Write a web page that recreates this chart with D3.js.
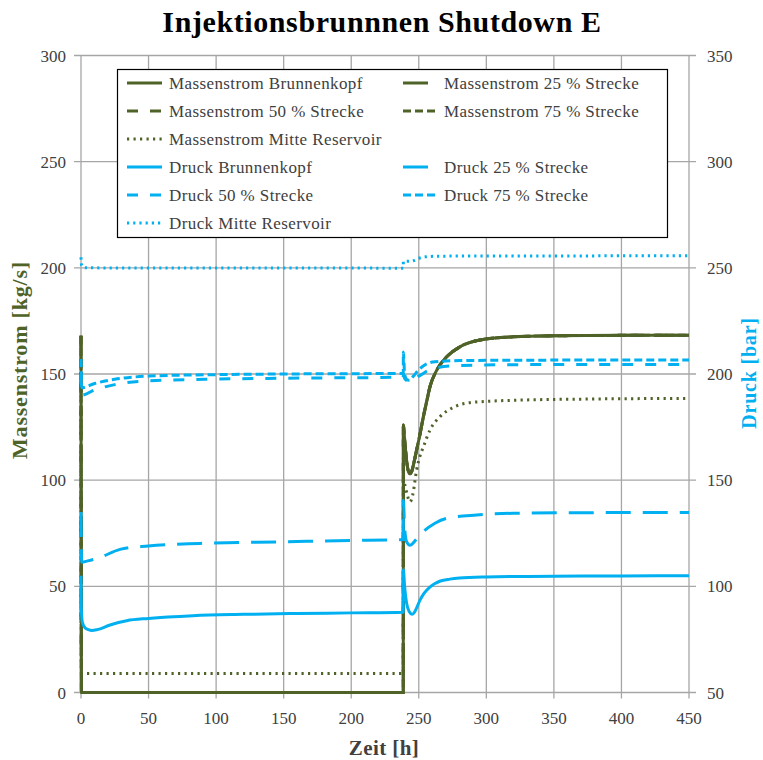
<!DOCTYPE html>
<html><head><meta charset="utf-8">
<script src="https://cdn.jsdelivr.net/npm/d3@7"></script>
<style>body{margin:0;background:#fff}svg{display:block}</style>
</head><body>
<svg id="c" width="763" height="760"></svg>
<script>
// ---- data ----
const title = "Injektionsbrunnnen Shutdown E";
const xTicks = [0,50,100,150,200,250,300,350,400,450];
const yLeftTicks = [0,50,100,150,200,250,300];
const yRightTicks = [50,100,150,200,250,300,350];

// Massenstrom [kg/s]
const tMBK = [0,0.3,238.5,238.6,239.3,240.5,242,243.5,245,246.5,248.4,251,253.4,256,258.3,263.3,270.7,280.5,295.3,319.8,350,400,450];
const vMBK = [168,0,0,126,121,112,105,103,104.5,108.5,114.2,122,129.9,137.5,144,151.8,158.1,162.8,166,167.5,168,168.2,168.3];
const tM25 = tMBK, vM25 = vMBK;
const tM50 = tMBK, vM50 = vMBK;
const tM75 = tMBK, vM75 = vMBK;
const tMMR = [0,0.3,10,100,200,238.5,238.6,240,241.5,243.5,245.5,248.4,250.5,253.4,258.3,265.7,274.4,285.5,302.7,324.9,375,450];
const vMMR = [138,9,9,9,9,9,100,97,93,89.8,93,104.8,110.5,115.7,123.6,129.9,133.9,136.3,137.2,137.7,138.2,138.5];

// Druck [bar]
const tPBK = [0,0.2,1,3,5.5,8,12,21.5,33.8,50,83,120,160,200,238.5,238.6,239.5,241,243,245,246.5,248.5,251,254,258,262,266,273,280,300,350,400,450];
const vPBK = [105,90,83,80.5,79.6,79.2,79.6,81.8,83.8,84.9,86.2,86.8,87.2,87.5,87.8,107.8,100,92,88,86.8,87.5,90,93.6,96.8,99.5,101.3,102.5,103.4,103.9,104.4,104.8,104.9,105];
const tP25 = [0,0.5,5,12.8,28.9,49.8,88,150,200,238.5,238.6,239.5,241,243.5,248,253.3,262,270.7,292.9,319.8,380,450];
const vP25 = [135,111.4,112,113.3,117.4,119,120.2,121,121.6,122,140.6,128,121,119.4,122,125.7,129.7,132,133.6,134.4,134.7,134.8];
const tP50 = [0,0.5,10,25,50,100,150,238.5,238.6,239.5,243,250,260,280,320,450];
const vP50 = [200,190,192.5,195,196.8,197.6,198,198.5,200,198,196.5,199,202.5,204,204.4,204.5];
const tP75 = [0,0.5,10,25,50,100,150,238.5,238.6,239.5,241,243,246,250,255,262,280,320,450];
const vP75 = [207,193.5,195.5,197.5,199,199.7,200,200.3,210.4,200,197.5,197,199,202,204.5,205.8,206.3,206.5,206.6];
const tPMR = [0,0.5,3,100,200,238.5,238.6,245,250,255,265,350,450];
const vPMR = [255,251,250,249.9,249.9,249.8,253,253.2,254.5,255.2,255.5,255.6,255.7];

const legendLabels = ["Massenstrom Brunnenkopf","Massenstrom 25 % Strecke","Massenstrom 50 % Strecke","Massenstrom 75 % Strecke","Massenstrom Mitte Reservoir","Druck Brunnenkopf","Druck 25 % Strecke","Druck 50 % Strecke","Druck 75 % Strecke","Druck Mitte Reservoir"];

// ---- chart ----
const olive = "#4f6228", blue = "#00b0f0", grid = "#a6a6a6", txt = "#404040";
const font = "'Liberation Serif','Times New Roman',serif";
const svg = d3.select("#c");
const L = 81, R = 689, T = 55.5, B = 692.5;
const x = d3.scaleLinear().domain([0,450]).range([L,R]);
const yL = d3.scaleLinear().domain([0,300]).range([B,T]);
const yR = d3.scaleLinear().domain([50,350]).range([B,T]);

// grid
const g = svg.append("g");
g.selectAll("line.v").data(xTicks).join("line")
  .attr("x1",d=>x(d)).attr("x2",d=>x(d)).attr("y1",T).attr("y2",B+6)
  .attr("stroke",grid).attr("stroke-width",1.3);
g.selectAll("line.h").data(yLeftTicks).join("line")
  .attr("x1",L-7).attr("x2",R+7).attr("y1",d=>yL(d)).attr("y2",d=>yL(d))
  .attr("stroke",grid).attr("stroke-width",1.3);

// tick labels
svg.append("g").selectAll("text").data(xTicks).join("text")
  .attr("x",d=>x(d)).attr("y",B+31).attr("text-anchor","middle")
  .attr("font-family",font).attr("font-size",17).attr("fill",txt).text(d=>d);
svg.append("g").selectAll("text").data(yLeftTicks).join("text")
  .attr("x",L-15).attr("y",d=>yL(d)+6).attr("text-anchor","end")
  .attr("font-family",font).attr("font-size",17).attr("fill",txt).text(d=>d);
svg.append("g").selectAll("text").data(yRightTicks).join("text")
  .attr("x",R+18).attr("y",d=>yR(d)+6).attr("text-anchor","start")
  .attr("font-family",font).attr("font-size",17).attr("fill",txt).text(d=>d);

// titles
svg.append("text").attr("x",382).attr("y",32).attr("text-anchor","middle")
  .attr("font-family",font).attr("font-weight","bold").attr("font-size",30)
  .attr("letter-spacing",0.6).attr("fill","#000").text(title);
svg.append("text").attr("x",384).attr("y",755).attr("text-anchor","middle")
  .attr("font-family",font).attr("font-weight","bold").attr("font-size",21)
  .attr("letter-spacing",0.4).attr("fill",txt).text("Zeit [h]");
svg.append("text").attr("transform","translate(27,360) rotate(-90)").attr("text-anchor","middle")
  .attr("font-family",font).attr("font-weight","bold").attr("font-size",22)
  .attr("letter-spacing",0.8).attr("fill",olive).text("Massenstrom [kg/s]");
svg.append("text").attr("transform","translate(756,373) rotate(-90)").attr("text-anchor","middle")
  .attr("font-family",font).attr("font-weight","bold").attr("font-size",20)
  .attr("letter-spacing",0.8).attr("fill",blue).text("Druck [bar]");

// series
const series = [
  {t:tMBK,v:vMBK,ax:yL,c:olive,d:null},
  {t:tM25,v:vM25,ax:yL,c:olive,d:"25,12"},
  {t:tM50,v:vM50,ax:yL,c:olive,d:"11,12"},
  {t:tM75,v:vM75,ax:yL,c:olive,d:"8,4"},
  {t:tMMR,v:vMMR,ax:yL,c:olive,d:"2.2,4.3"},
  {t:tPBK,v:vPBK,ax:yR,c:blue,d:null},
  {t:tP25,v:vP25,ax:yR,c:blue,d:"25,12"},
  {t:tP50,v:vP50,ax:yR,c:blue,d:"11,12"},
  {t:tP75,v:vP75,ax:yR,c:blue,d:"8,4"},
  {t:tPMR,v:vPMR,ax:yR,c:blue,d:"2.2,4"}
];
const clip = svg.append("clipPath").attr("id","cp").append("rect")
  .attr("x",L-3).attr("y",T).attr("width",R-L+6).attr("height",B-T+3);
const lg = svg.append("g").attr("clip-path","url(#cp)");
series.forEach(s=>{
  const pts = s.t.map((t,i)=>[t,s.v[i]]);
  const line = d3.line().x(p=>x(p[0])).y(p=>s.ax(p[1])).curve(d3.curveMonotoneX);
  lg.append("path").attr("d",line(pts)).attr("fill","none").attr("stroke",s.c)
    .attr("stroke-width",3).attr("stroke-dasharray",s.d);
});

// legend
const leg = svg.append("g");
leg.append("rect").attr("x",117.5).attr("y",69.5).attr("width",550).attr("height",168)
  .attr("fill","#fff").attr("stroke","#000").attr("stroke-width",1.2);
const slots = [[0,0],[1,0],[0,1],[1,1],[0,2],[0,3],[1,3],[0,4],[1,4],[0,5]];
series.forEach((s,i)=>{
  const [col,row] = slots[i];
  const yy = 83 + row*28;
  const x0 = col===0 ? 127 : 403;
  leg.append("line").attr("x1",x0).attr("x2",x0+35).attr("y1",yy).attr("y2",yy)
    .attr("stroke",s.c).attr("stroke-width",3).attr("stroke-dasharray",s.d);
  leg.append("text").attr("x",col===0?169:444).attr("y",yy+5.5)
    .attr("font-family",font).attr("font-size",17).attr("fill",txt)
    .attr("letter-spacing",0.4).text(legendLabels[i]);
});
</script>
</body></html>
